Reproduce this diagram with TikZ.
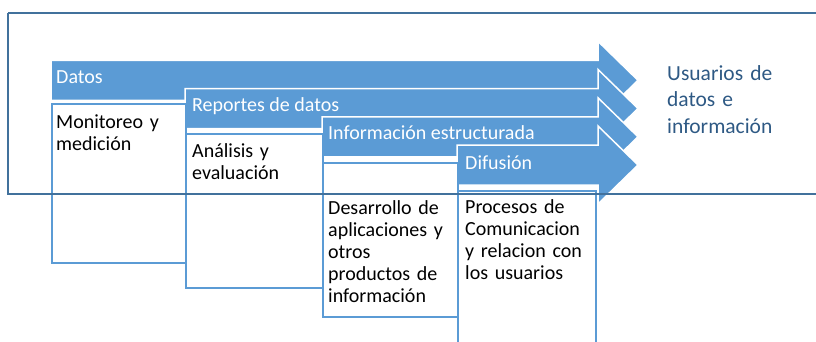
\documentclass[tikz,border=0pt]{standalone}
\usepackage{fontspec}
\setmainfont{Carlito}
\definecolor{arrowblue}{HTML}{5B9BD5}
\definecolor{frameblue}{HTML}{41719C}
\definecolor{userblue}{RGB}{46,89,132}
\tikzset{
  arrowshape/.style={fill=arrowblue, draw=white, line width=1.5pt, line join=miter},
  boxshape/.style={fill=white, draw=arrowblue, line width=2.2pt},
  arrowlabel/.style={inner sep=0pt, anchor=base west, text=white, font=\fontsize{20}{22}\selectfont},
  boxlabel/.style={inner sep=0pt, anchor=base west, text=black, align=left, text width=135pt, font=\fontsize{20}{22}\selectfont},
  userlabel/.style={inner sep=0pt, anchor=base west, text=userblue, align=left, text width=140pt, font=\fontsize{21.5}{26.7}\selectfont},
  frameshape/.style={draw=frameblue, line width=2pt}
}
\begin{document}
\begin{tikzpicture}[x=1pt,y=-1pt]
\useasboundingbox (0,0) rectangle (816,341);
% arrows
\path[arrowshape] (51,60.3) -- (598,60.3) -- (598,41.3) -- (638,80.3) -- (598,119.3) -- (598,100.3) -- (51,100.3) -- cycle;
\path[arrowshape] (185,88.5) -- (598,88.5) -- (598,69.5) -- (638,108.5) -- (598,147.5) -- (598,128.5) -- (185,128.5) -- cycle;
\path[arrowshape] (322,116.8) -- (598,116.8) -- (598,97.8) -- (638,136.8) -- (598,175.8) -- (598,156.8) -- (322,156.8) -- cycle;
\path[arrowshape] (457,145) -- (598,145) -- (598,126) -- (638,165) -- (598,204) -- (598,185) -- (457,185) -- cycle;
% boxes
\node[boxshape, anchor=north west, minimum width=134pt, minimum height=159pt, inner sep=0pt] (b1) at (51,102.7) {};
\node[boxshape, anchor=north west, minimum width=137pt, minimum height=153.7pt, inner sep=0pt] (b2) at (185,133) {};
\node[boxshape, anchor=north west, minimum width=135pt, minimum height=154.3pt, inner sep=0pt] (b3) at (322,161.7) {};
\node[boxshape, anchor=north west, minimum width=138pt, minimum height=170pt, inner sep=0pt] (b4) at (457,190) {};
% arrow labels
\node[arrowlabel] (l1) at (56,83) {Datos};
\node[arrowlabel] (l2) at (192,111.3) {Reportes de datos};
\node[arrowlabel] (l3) at (328,139.8) {Información estructurada};
\node[arrowlabel] (l4) at (465,169) {Difusión};
% box labels
\node[boxlabel] (t1) at (56,128) {Monitoreo y\\medición};
\node[boxlabel] (t2) at (192,157) {Análisis y\\evaluación};
\node[boxlabel] (t3) at (328,214) {Desarrollo de\\aplicaciones y\\otros\\productos de\\información};
\node[boxlabel] (t4) at (465,213) {Procesos de\\Comunicacion\\y relacion con\\los usuarios};
% users
\node[userlabel] (u) at (667,80) {Usuarios de\\datos e\\información};
% outer frame
\draw[frameshape] (8.3,12.5) -- (830,12.5) (8.3,12.5) -- (8.3,193.5) -- (830,193.5);
\end{tikzpicture}
\end{document}
